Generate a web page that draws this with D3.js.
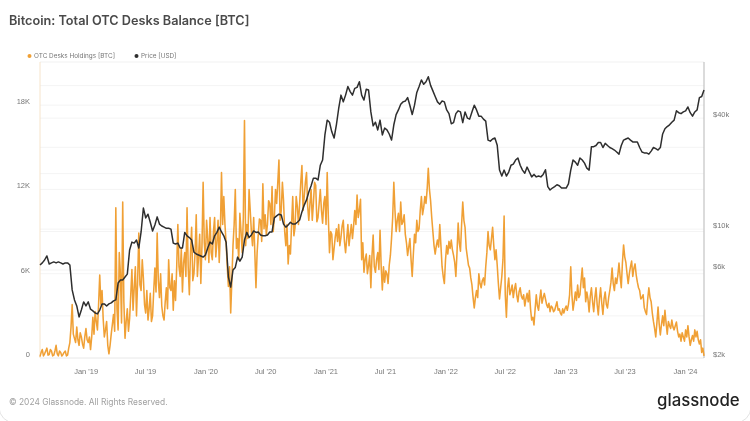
<!DOCTYPE html>
<html>
<head>
<meta charset="utf-8">
<script src="https://cdn.jsdelivr.net/npm/d3@7"></script>
<style>
  html, body { margin: 0; background: #fff; }
  svg { display: block; font-family: Inter, "Open Sans", sans-serif; filter: blur(0.35px); }
  .axis text { fill: #777; font-size: 7.5px; }
  .axis path, .axis line { display: none; }
</style>
</head>
<body>
<svg id="viz" width="750" height="421"></svg>
<script>
const title = "Bitcoin: Total OTC Desks Balance [BTC]"
const seriesNames = ["OTC Desks Holdings [BTC]", "Price [USD]"]
const copyright = "© 2024 Glassnode. All Rights Reserved."
const brand = "glassnode"

// weekly readings, first one is the week below
const firstWeek = new Date(2018, 7, 15)

const holdings = [
  100,600,300,700,250,500,200,900,150,400,
  250,500,200,1100,3800,1400,2200,900,1500,700,
  2100,1100,600,2900,3300,2000,5900,4800,1500,2600,
  300,1700,3100,10700,2000,6000,11100,1400,3500,2800,
  6300,5000,3000,8900,4800,5700,3200,2700,4600,3000,
  6400,8900,4300,3700,2700,5000,7000,4800,3400,4100,
  9500,5800,4700,7500,10700,4500,9300,6000,10200,7200,
  5300,12500,7000,8500,10000,7000,10000,8200,6800,13200,
  11500,8200,5100,3200,8000,12000,8500,10300,7500,16900,
  9500,12000,9000,10000,5000,8800,9800,12400,10200,9500,
  11000,12200,10000,11000,14100,10500,11200,8000,6700,7400,
  11500,9300,10800,11000,13700,11500,13200,9800,12000,11000,
  12300,10000,12000,9600,11500,13200,7500,8800,7800,9200,
  9500,8600,9800,7500,9500,8800,8500,10500,11600,10500,
  7000,6100,7400,6600,5000,8750,6100,7500,9100,4850,
  5400,6000,6600,8500,12500,9000,10300,11100,9700,8800,
  7300,8500,5800,8800,9800,9200,11500,10700,11000,13500,
  11200,9000,7400,8400,9500,6500,5300,8000,8300,8400,
  7300,5800,9600,7600,11100,9300,7200,6400,5200,3560,
  4800,6000,5000,5700,6500,9000,7700,9300,7000,6600,
  4200,5800,10100,2900,5700,4800,4300,5300,4000,5000,
  4200,3700,4600,4800,2700,2350,4500,3400,4840,4300,
  4200,3600,3300,3600,3400,4000,3500,3060,3200,3700,
  3800,6500,3400,4700,5200,4500,6400,5700,4700,3280,
  5000,3300,5000,3060,5000,3100,4700,3560,4800,6400,
  4800,5300,6760,5000,8050,6800,5300,6500,5800,6700,
  5400,4800,4300,3600,3100,5000,4000,2600,1500,3630,
  1640,3000,3400,1700,2300,2700,2000,2560,1500,1200,
  1500,2000,2300,900,1600,2000,1900,1000,400,150
]

// readings half a week after each of the above
const holdingsMid = [
  400,150,500,200,600,150,500,300,500,150,
  400,150,700,2200,1700,1100,1300,1800,1000,1500,
  1300,1500,1500,1700,2600,3800,3800,2800,2000,900,
  900,2400,1900,3500,7500,2500,4000,2600,1900,4500,
  3400,6500,5500,5200,7000,3800,4800,3500,2600,4800,
  4700,5500,6000,3000,4000,3500,5000,6000,5500,6500,
  6500,7800,6800,5800,6500,7500,5500,7500,5800,8800,
  8000,8200,9800,6800,7500,9000,7200,9800,9000,9500,
  9500,6500,6500,5500,9500,7800,7000,9000,10000,8000,
  8500,10500,8000,7500,7500,9900,8300,9200,8800,11200,
  9500,9000,12000,12500,9800,12500,9000,9500,8000,9500,
  8700,11500,9500,12500,10500,12500,10800,11000,9800,12500,
  9700,11000,10500,11000,9500,10000,9000,7000,8600,8300,
  8000,9400,8300,8500,8000,9500,9400,9500,10000,11300,
  8200,7000,6000,7300,7300,6500,7000,6300,6500,6500,
  6200,5300,7300,10000,10500,9800,9000,9500,10200,8200,
  7900,7000,7400,8200,9000,10500,10200,11500,12000,12000,
  10000,8000,8000,7900,8000,5800,7000,7400,7800,7700,
  6800,7500,8200,9500,9800,7800,6600,5700,4300,4300,
  4300,5300,5500,5200,7500,8000,8500,8000,7700,5300,
  5000,7000,4500,5000,4500,5200,4900,4500,4700,4400,
  4500,4200,4000,3500,2900,3500,3700,4200,3900,4600,
  3800,3900,3700,3300,3700,3400,3200,3500,3500,3400,
  4500,4500,4000,4100,4300,5500,5000,4000,4200,4400,
  4000,4300,3800,4200,3900,4200,3800,4300,5400,5300,
  5700,5900,5800,6800,7200,6000,6000,6900,6400,5900,
  5000,4200,4500,3300,4200,4300,3200,2100,2500,2400,
  2400,2300,2500,2600,2100,2200,2300,1900,1700,1800,
  1200,1500,1500,1300,1200,1500,1300,1300,700
]

const price = [
  6390,6560,6800,7150,6470,6560,6640,6560,6640,6560,
  6470,6560,6560,6390,4680,4130,3830,3340,3640,4030,
  3830,4030,3680,3600,3510,3470,3640,3930,3930,3830,
  3930,3980,4080,4130,5100,5300,5300,5500,5700,7700,
  8500,8400,8730,7900,9650,13000,11500,12050,10900,9770,
  10530,11650,10650,10400,10250,10100,10100,10000,8400,8300,
  8400,7900,7900,9600,9200,9000,8730,7500,7330,7240,
  7150,7050,7240,7900,8500,8300,9200,9600,10250,9650,
  9200,8500,5500,4850,6000,6200,7050,6700,7050,8730,
  9600,9000,9300,9770,9600,9650,9300,9200,9200,9300,
  9650,9650,11500,11800,12050,11930,10650,10250,10530,10900,
  10650,10650,10900,11200,12400,13500,14400,15900,17200,18900,
  18900,18460,22200,23700,32400,39000,38000,33700,31200,36800,
  45100,53300,49000,53300,59400,55700,53300,58000,58700,63000,
  53300,50100,57400,56800,43200,36300,38000,34500,39000,32400,
  35300,34500,32800,30400,36800,41800,44300,47600,49000,49500,
  51700,46800,41800,47000,55100,59400,64400,61000,63000,67000,
  60200,56200,52400,49000,47600,49500,49000,44300,42300,37300,
  37800,42300,43800,43200,37800,43200,40000,39500,43200,47000,
  44300,41000,41000,39500,38500,30400,30000,30800,31200,28500,
  20900,19400,20900,19400,20400,22200,22500,23700,24300,22200,
  20900,20100,21700,20400,19200,19800,19200,19400,19200,19800,
  21000,17000,16300,16700,17000,17400,17200,16700,16700,16700,
  17600,20900,23700,23100,22200,24300,23700,22800,21400,20900,
  28000,28000,28400,29500,29500,27700,29200,28400,27700,27300,
  26850,26200,25500,28400,30400,30800,31200,30400,29700,29700,
  29700,27700,26200,25900,25900,25500,26500,27700,27300,26850,
  27700,32800,35000,36000,36800,38000,39000,43800,42800,42300,
  43200,43800,46000,42800,41000,43200,44300,51700,52400,56800
]

const dateTicks = [new Date(2019,0,1), new Date(2019,6,1), new Date(2020,0,1), new Date(2020,6,1), new Date(2021,0,1), new Date(2021,6,1), new Date(2022,0,1), new Date(2022,6,1), new Date(2023,0,1), new Date(2023,6,1), new Date(2024,0,1)]
const btcTicks = [0, 6000, 12000, 18000]
const priceTicks = [2000, 6000, 10000, 40000]
const btcGrid = [3000, 6000, 9000, 12000, 15000, 18000]
const priceGrid = [6000, 10000, 20000, 40000, 60000]

const MARGIN = {top: 62, bottom: 63, left: 40, right: 46}
const svg = d3.select("svg#viz")
const width = +svg.attr("width")
const height = +svg.attr("height")

const x_scale = d3.scaleTime()
  .domain([firstWeek, d3.timeDay.offset(firstWeek, 7 * (holdings.length - 1))])
  .range([MARGIN.left, width - MARGIN.right])
const y_btc = d3.scaleLinear()
  .domain([0, 21070])
  .range([height - MARGIN.bottom, MARGIN.top])
const y_price = d3.scaleLog()
  .domain([2000, 80600])
  .range([height - MARGIN.bottom, MARGIN.top])

// grid
const grid = svg.append("g")
grid.selectAll("line.btc").data(btcGrid).join("line")
  .attr("class", "btc")
  .attr("x1", MARGIN.left).attr("x2", width - MARGIN.right)
  .attr("y1", d => y_btc(d)).attr("y2", d => y_btc(d))
  .attr("stroke", "#f4f4f4")
grid.selectAll("line.price").data(priceGrid).join("line")
  .attr("class", "price")
  .attr("x1", MARGIN.left).attr("x2", width - MARGIN.right)
  .attr("y1", d => y_price(d)).attr("y2", d => y_price(d))
  .attr("stroke", "#f4f4f4")

// frame
svg.append("line").attr("x1", MARGIN.left).attr("x2", width - MARGIN.right)
  .attr("y1", MARGIN.top).attr("y2", MARGIN.top).attr("stroke", "#f1f1f1")
svg.append("line").attr("x1", MARGIN.left).attr("x2", width - MARGIN.right)
  .attr("y1", height - MARGIN.bottom).attr("y2", height - MARGIN.bottom).attr("stroke", "#e8e8e8")
svg.append("line").attr("x1", MARGIN.left).attr("x2", MARGIN.left)
  .attr("y1", MARGIN.top).attr("y2", height - MARGIN.bottom).attr("stroke", "#f6e4cb").attr("stroke-width", 1)
svg.append("line").attr("x1", width - MARGIN.right).attr("x2", width - MARGIN.right)
  .attr("y1", MARGIN.top).attr("y2", height - MARGIN.bottom).attr("stroke", "#c8c8c8").attr("stroke-width", 1.3)

// lines
const holdingsAll = d3.merge(holdings.map((d, i) => i < holdingsMid.length ? [d, holdingsMid[i]] : [d]))
const holdingsLine = d3.line()
  .x((d, i) => x_scale(d3.timeHour.offset(firstWeek, 84 * i)))
  .y(d => y_btc(d))
const priceLine = d3.line()
  .x((d, i) => x_scale(d3.timeDay.offset(firstWeek, 7 * i)))
  .y(d => y_price(d))

svg.append("path").attr("d", holdingsLine(holdingsAll))
  .attr("fill", "none").attr("stroke", "#f0a035").attr("stroke-width", 1.55).attr("stroke-linejoin", "round")
svg.append("path").attr("d", priceLine(price))
  .attr("fill", "none").attr("stroke", "#2e2e2e").attr("stroke-width", 1.5).attr("stroke-linejoin", "round")

// axes
const monthFmt = d3.timeFormat("%b '%y")
svg.append("g").attr("class", "axis")
  .attr("transform", `translate(0, ${height - MARGIN.bottom})`)
  .call(d3.axisBottom(x_scale).tickValues(dateTicks).tickFormat(monthFmt).tickSize(0).tickPadding(11))
svg.append("g").attr("class", "axis")
  .attr("transform", `translate(${MARGIN.left}, -4)`)
  .call(d3.axisLeft(y_btc).tickValues(btcTicks).tickFormat(d => d === 0 ? "0" : (d / 1000) + "K").tickSize(0).tickPadding(10))
svg.append("g").attr("class", "axis")
  .attr("transform", `translate(${width - MARGIN.right}, -4)`)
  .call(d3.axisRight(y_price).tickValues(priceTicks).tickFormat(d => "$" + (d / 1000) + "k").tickSize(0).tickPadding(9))

// title and legend
svg.append("text").attr("x", 9).attr("y", 25).text(title)
  .attr("fill", "#4a4a4a").attr("font-size", 12.7).attr("font-weight", 600)

const legendX = [29.5, 136.5]
const legendColors = ["#f0a035", "#2e2e2e"]
seriesNames.forEach((name, i) => {
  svg.append("circle").attr("cx", legendX[i]).attr("cy", 56).attr("r", 2).attr("fill", legendColors[i])
  svg.append("text").attr("x", legendX[i] + 4.5).attr("y", 58.3).text(name)
    .attr("fill", "#777").attr("font-size", 6.4)
})

// footer
svg.append("text").attr("x", 9).attr("y", 405).text(copyright)
  .attr("fill", "#a0a0a0").attr("font-size", 8.4)
svg.append("text").attr("x", 657).attr("y", 406).text(brand)
  .attr("fill", "#222").attr("font-size", 16.8).attr("font-weight", 500)

// rounded edge of the screenshot
svg.append("rect").attr("x", -1).attr("y", -40).attr("width", 752).attr("height", 463).attr("rx", 16)
  .attr("fill", "none").attr("stroke", "#e2e2e2").attr("stroke-width", 1)
</script>
</body>
</html>
